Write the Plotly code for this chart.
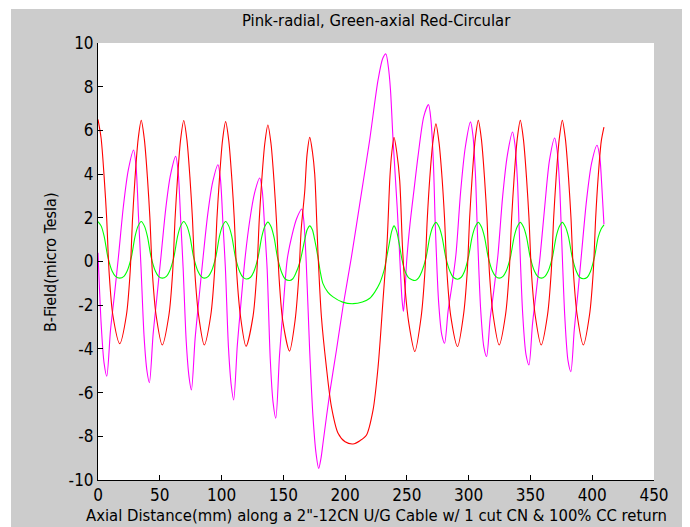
import plotly.graph_objects as go

# ---------------- data ----------------
radial_x = [0, 2.6, 4.9, 7.1, 10.1, 13.2, 16.6, 20.6, 24.5, 28.8,
            30.8, 32.8, 34.8, 37.3, 39.6, 41.6, 44.6, 47.6, 51.0, 54.8, 58.6, 62.9,
            64.9, 66.9, 68.9, 71.4, 73.7, 75.6, 78.6, 81.6, 85.1, 88.9, 92.8, 97.1,
            99.1, 101.1, 103.1, 105.6, 107.9, 109.8, 112.8, 115.7, 119.1, 122.9, 126.7, 130.9,
            132.9, 134.9, 136.9, 139.4, 141.7, 143.9, 146.9, 149.8, 153.2, 157.0, 160.8, 165.0,
            166.5, 168.5, 171.3, 174.0, 176.5, 178.6, 180.5, 182.1, 187.5, 193.0, 198.3, 205.1,
            213.2, 219.9, 226.7, 230.5, 233.0, 235.0, 236.7, 238.8, 242.1, 244.2, 246.0, 247.2,
            248.3, 249.8, 252.5, 255.8, 259.0, 263.7, 267.5,
            269.5, 271.5, 273.0, 275.7, 278.3, 280.5, 283.4, 286.4, 289.7, 293.5, 297.3, 301.5,
            303.5, 305.5, 307.0, 309.7, 312.3, 314.5, 317.4, 320.4, 323.7, 327.5, 331.3, 335.5,
            337.5, 339.5, 341.0, 343.7, 346.4, 348.8, 351.7, 354.6, 357.9, 361.7, 365.4, 369.6,
            371.6, 373.6, 375.1, 377.8, 380.4, 382.7, 385.5, 388.3, 391.4, 395.4, 399.5, 403.9,
            406.2, 407.6, 409.5]
radial_y = [0.4, -2.9, -4.64, -5.25, -3.15, -1.58, 0.25, 2.55, 4.18, 5.1,
            4.34, 2.04, -0.25, -3.44, -5.0, -5.55, -3.33, -1.67, 0.24, 2.4, 3.94, 4.81,
            4.09, 1.92, -0.3, -3.65, -5.29, -5.88, -3.53, -1.76, 0.22, 2.2, 3.63, 4.43,
            3.77, 1.77, -0.3, -3.93, -5.7, -6.34, -3.8, -1.9, 0.19, 1.91, 3.13, 3.82,
            3.25, 1.53, -0.35, -4.45, -6.45, -7.17, -4.3, -2.15, 0.12, 1.2, 1.97, 2.4,
            1.9, 0.0, -4.05, -7.1, -8.8, -9.47, -9.0, -8.32, -6.03, -4.05, -2.06, 0.2,
            3.13, 5.57, 8.32, 9.3, 9.5, 8.9, 7.87, 5.57, 2.52, 0.23, -1.7, -2.29,
            -1.6, 0.0, 1.7, 3.3, 4.81, 6.64, 7.18,
            6.46, 4.45, 1.65, -1.87, -3.37, -3.74, -2.24, -1.12, 0.32, 3.2, 5.24, 6.39,
            5.75, 3.96, 1.47, -2.18, -3.92, -4.35, -2.61, -1.31, 0.3, 2.97, 4.86, 5.93,
            5.34, 3.68, 1.36, -2.37, -4.26, -4.73, -2.84, -1.42, 0.28, 2.6, 4.63, 5.65,
            5.08, 3.5, 1.3, -2.52, -4.54, -5.04, -3.1, -1.5, 0.4, 2.8, 4.5, 5.32,
            4.73, 3.6, 1.7]

axial_x = [0, 2.5, 5.0, 8.0, 11.5, 14.2, 17.6,
           21.0, 23.5, 27.0, 30.0, 32.5, 35.0, 37.5, 40.0, 43.0, 46.5, 49.0, 52.0,
           55.4, 57.9, 61.4, 64.4, 66.9, 69.4, 71.9, 74.4, 77.4, 80.9, 83.4, 86.0,
           89.3, 91.8, 95.3, 98.3, 100.8, 103.3, 105.8, 108.3, 111.3, 114.8, 117.3, 119.8,
           123.5, 126.0, 129.5, 132.5, 135.0, 137.5, 140.0, 142.5, 145.5, 149.0, 151.5, 155.0,
           157.5, 160.0, 163.2, 165.5, 167.3, 169.3, 171.4, 173.5, 175.4, 178.0, 180.0, 182.0,
           186.0, 190.2, 198.0, 206.4, 214.0, 220.0, 224.0, 228.0, 230.5, 232.0, 234.0, 236.0,
           237.8, 239.6, 241.6, 243.7, 246.0, 248.5, 251.5, 256.7,
           259.5, 262.0, 265.5, 268.5, 271.0, 273.5, 276.0, 278.5, 281.5, 285.0, 287.5, 291.0,
           294.0, 296.5, 299.8, 302.8, 305.3, 307.8, 310.3, 312.8, 315.8, 319.3, 321.8, 324.7,
           327.8, 330.3, 333.8, 336.8, 339.3, 341.8, 344.3, 346.8, 349.8, 353.3, 355.8, 358.9,
           361.8, 364.3, 367.8, 370.8, 373.3, 375.8, 378.3, 380.8, 383.8, 387.3, 389.8, 393.0,
           396.0, 398.5, 401.8, 404.8, 407.3, 409.5]
axial_y = [1.83, 1.63, 1.15, 0.2, -0.45, -0.68, -0.76,
           -0.68, -0.45, 0.2, 1.15, 1.63, 1.83, 1.63, 1.15, 0.2, -0.45, -0.68, -0.76,
           -0.68, -0.45, 0.2, 1.15, 1.63, 1.83, 1.63, 1.15, 0.2, -0.45, -0.68, -0.76,
           -0.68, -0.45, 0.2, 1.15, 1.63, 1.83, 1.63, 1.15, 0.18, -0.48, -0.72, -0.8,
           -0.72, -0.48, 0.18, 1.12, 1.6, 1.8, 1.6, 1.1, 0.12, -0.55, -0.8, -0.87,
           -0.8, -0.55, -0.07, 0.5, 0.99, 1.45, 1.63, 1.45, 0.99, 0.2, -0.5, -1.0,
           -1.4, -1.62, -1.86, -1.93, -1.85, -1.68, -1.4, -1.0, -0.6, -0.3, 0.3, 0.9,
           1.4, 1.63, 1.4, 0.84, 0.1, -0.45, -0.75, -0.87,
           -0.75, -0.47, 0.18, 1.12, 1.59, 1.79, 1.59, 1.12, 0.18, -0.47, -0.72, -0.81,
           -0.72, -0.47, 0.2, 1.13, 1.59, 1.79, 1.59, 1.13, 0.2, -0.45, -0.68, -0.76,
           -0.68, -0.45, 0.2, 1.13, 1.59, 1.79, 1.59, 1.13, 0.2, -0.45, -0.68, -0.76,
           -0.68, -0.45, 0.2, 1.13, 1.59, 1.79, 1.59, 1.13, 0.2, -0.47, -0.72, -0.79,
           -0.72, -0.47, 0.2, 1.1, 1.5, 1.68]

circ_x = [0, 2.5, 5.0, 7.0, 9.0, 12.0, 17.6,
          23.0, 26.0, 28.0, 30.0, 32.5, 35.0, 37.5, 40.0, 42.0, 44.0, 47.0, 52.0,
          57.4, 60.4, 62.4, 64.4, 66.9, 69.4, 71.9, 74.4, 76.4, 78.4, 81.4, 86.0,
          91.3, 94.3, 96.3, 98.3, 100.8, 103.3, 105.8, 108.3, 110.3, 112.3, 115.3, 119.8,
          125.5, 128.5, 130.5, 132.5, 135.0, 137.5, 140.0, 142.5, 144.5, 146.5, 149.5, 155.0,
          159.5, 162.5, 164.5, 167.3, 169.2, 171.4, 173.6, 175.4, 177.0, 178.0, 180.8, 184.8,
          188.9, 194.3, 200.0, 206.4, 212.0, 217.2, 222.6, 226.7, 230.7, 234.0, 236.3, 237.8,
          239.6, 241.8, 244.2, 246.4, 248.5, 251.5, 256.4,
          261.5, 264.5, 266.5, 268.5, 271.0, 273.5, 276.0, 278.5, 280.5, 282.5, 285.5, 291.0,
          295.8, 298.8, 300.8, 302.8, 305.3, 307.8, 310.3, 312.8, 314.8, 316.8, 319.8, 324.7,
          329.8, 332.8, 334.8, 336.8, 339.3, 341.8, 344.3, 346.8, 348.8, 350.8, 353.8, 358.7,
          363.8, 366.8, 368.8, 370.8, 373.3, 375.8, 378.3, 380.8, 382.8, 384.8, 387.8, 392.8,
          397.8, 400.8, 402.8, 404.8, 407.3, 409.5]
circ_y = [6.5, 5.65, 3.85, 2.0, -0.5, -2.45, -3.76,
          -2.45, -0.5, 2.0, 3.85, 5.6, 6.46, 5.6, 3.85, 2.0, -0.5, -2.45, -3.82,
          -2.45, -0.5, 2.0, 3.85, 5.6, 6.45, 5.6, 3.85, 2.0, -0.5, -2.45, -3.82,
          -2.45, -0.5, 2.0, 3.8, 5.55, 6.4, 5.55, 3.8, 1.95, -0.55, -2.5, -3.88,
          -2.5, -0.55, 1.9, 3.7, 5.4, 6.25, 5.4, 3.65, 1.8, -0.7, -2.7, -4.1,
          -2.7, -0.7, 1.5, 3.2, 4.9, 5.68, 5.0, 4.0, 1.9, 0.45, -2.52, -4.81,
          -6.64, -7.86, -8.25, -8.35, -8.2, -7.95, -6.8, -4.81, -1.75, 0.9, 3.9, 5.0,
          5.68, 5.0, 3.7, 0.7, -1.2, -2.8, -4.12,
          -2.55, -0.55, 1.95, 3.8, 5.45, 6.3, 5.45, 3.8, 1.95, -0.55, -2.5, -3.89,
          -2.45, -0.5, 2.0, 3.85, 5.6, 6.46, 5.6, 3.85, 2.0, -0.5, -2.45, -3.82,
          -2.45, -0.5, 2.0, 3.85, 5.6, 6.46, 5.6, 3.85, 2.0, -0.5, -2.45, -3.82,
          -2.45, -0.5, 2.0, 3.85, 5.6, 6.46, 5.6, 3.85, 2.0, -0.5, -2.45, -3.82,
          -2.45, -0.5, 2.0, 3.85, 5.5, 6.15]

x_ticks = [0, 50, 100, 150, 200, 250, 300, 350, 400, 450]
x_tick_text = ["0", "50", "100", "150", "200", "250", "300", "350", "400", "450"]
y_ticks = [-10, -8, -6, -4, -2, 0, 2, 4, 6, 8, 10]
y_tick_text = ["-10", "-8", "-6", "-4", "-2", "0", "2", "4", "6", "8", "10"]

title_text = "Pink-radial, Green-axial Red-Circular"
x_title = 'Axial Distance(mm) along a 2"-12CN U/G Cable w/ 1 cut CN & 100% CC return'
y_title = "B-Field(micro Tesla)"

# ---------------- figure ----------------
FONT = "Liberation Sans Narrow, Arial Narrow, DejaVu Sans Condensed, Liberation Sans, sans-serif"
fig = go.Figure()
fig.add_trace(go.Scatter(x=radial_x, y=radial_y, mode="lines", name="radial",
                         line=dict(color="#ff00ff", width=1.1, shape="spline", smoothing=0.8)))
fig.add_trace(go.Scatter(x=axial_x, y=axial_y, mode="lines", name="axial",
                         line=dict(color="#00ff00", width=1.1, shape="spline", smoothing=0.8)))
fig.add_trace(go.Scatter(x=circ_x, y=circ_y, mode="lines", name="circular",
                         line=dict(color="#ff0000", width=1.1, shape="spline", smoothing=0.8)))

W, H = 690, 527
L, R, T, B = 98, 36, 43, 47
pw, ph = W - L - R, H - T - B

def px_x(p):
    return (p - L) / pw

def px_y(p):
    return (H - B - p) / ph

fig.update_layout(
    width=W, height=H,
    margin=dict(l=L, r=R, t=T, b=B, pad=0),
    paper_bgcolor="#cccccc",
    plot_bgcolor="#ffffff",
    showlegend=False,
    font=dict(family=FONT, size=17, color="#000000"),
    xaxis=dict(range=[0, 450], tickvals=x_ticks, ticktext=x_tick_text,
               ticks="inside", ticklen=5, tickcolor="#000000", showline=True,
               linecolor="#000000", linewidth=1, mirror=False, showgrid=False,
               zeroline=False, tickfont=dict(size=17)),
    yaxis=dict(range=[-10, 10], tickvals=y_ticks, ticktext=y_tick_text,
               ticks="inside", ticklen=5, tickcolor="#000000", showline=True,
               linecolor="#000000", linewidth=1, mirror=False, showgrid=False,
               zeroline=False, tickfont=dict(size=17)),
    annotations=[
        dict(text=title_text, xref="paper", yref="paper", x=0.5, y=px_y(20),
             xanchor="center", yanchor="middle", showarrow=False,
             font=dict(size=16.5)),
        dict(text=x_title, xref="paper", yref="paper", x=0.5, y=px_y(515),
             xanchor="center", yanchor="middle", showarrow=False,
             font=dict(size=16.5)),
        dict(text=y_title, xref="paper", yref="paper", x=px_x(50), y=px_y(262),
             xanchor="center", yanchor="middle", showarrow=False, textangle=-90,
             font=dict(size=16)),
    ],
    shapes=[
        dict(type="rect", xref="paper", yref="paper", x0=-0.5, x1=1.5,
             y0=px_y(9), y1=1.5, fillcolor="#ffffff", line=dict(width=0), layer="below"),
        dict(type="rect", xref="paper", yref="paper", x0=-0.5, x1=px_x(11),
             y0=-0.5, y1=1.5, fillcolor="#ffffff", line=dict(width=0), layer="below"),
        dict(type="rect", xref="paper", yref="paper", x0=px_x(682), x1=1.5,
             y0=-0.5, y1=1.5, fillcolor="#ffffff", line=dict(width=0), layer="below"),
    ],
)

fig.write_html("out.html")
